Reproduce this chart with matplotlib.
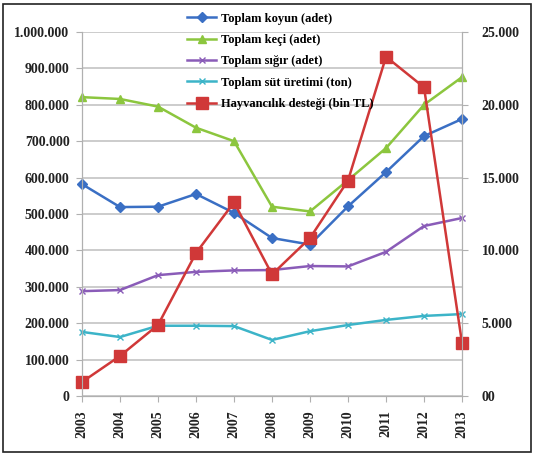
import matplotlib.pyplot as plt
from matplotlib.patches import Rectangle

years = ["2003", "2004", "2005", "2006", "2007", "2008", "2009", "2010", "2011", "2012", "2013"]

koyun = [582000, 519000, 520000, 555000, 503000, 434000, 416000, 521000, 615000, 714000, 761000]
keci = [821000, 816000, 795000, 737000, 700000, 520000, 507000, 593000, 681000, 800000, 876000]
sigir = [288000, 291000, 332000, 341000, 345000, 346000, 357000, 356000, 396000, 467000, 489000]
sut = [176000, 162000, 193000, 193000, 192000, 154000, 178000, 195000, 209000, 220000, 225000]
destek = [960, 2750, 4880, 9820, 13300, 8350, 10850, 14800, 23300, 21200, 3640]

left_ticks = list(range(0, 1000001, 100000))
left_labels = ["0"] + [f"{v:,}".replace(",", ".") for v in left_ticks[1:]]
right_ticks = list(range(0, 25001, 5000))
right_labels = ["00"] + [f"{v:,}".replace(",", ".") for v in right_ticks[1:]]

fig = plt.figure(figsize=(5.34, 4.57), dpi=100)
ax = fig.add_axes([0.1536, 0.1335, 0.7116, 0.7965])
ax2 = ax.twinx()

x = list(range(len(years)))
l1, = ax.plot(x, koyun, color="#3a6fc4", marker="D", markersize=5, lw=1.8, label="Toplam koyun (adet)", clip_on=False)
l2, = ax.plot(x, keci, color="#8cc63e", marker="^", markersize=6, lw=1.8, label="Toplam keçi (adet)", clip_on=False)
l3, = ax.plot(x, sigir, color="#8a5cb8", marker="x", markersize=5, lw=1.8, label="Toplam sığır (adet)", clip_on=False)
l4, = ax.plot(x, sut, color="#3cb4c8", marker="x", markersize=5, lw=1.8, label="Toplam süt üretimi (ton)", clip_on=False)
l5, = ax2.plot(x, destek, color="#d03838", marker="s", markersize=8, lw=1.8, label="Hayvancılık desteği (bin TL)", clip_on=False)

ax.set_xlim(0, len(years) - 1)
ax.set_ylim(0, 1000000)
ax2.set_ylim(0, 25000)
ax.set_yticks(left_ticks)
ax.set_yticklabels(left_labels)
ax2.set_yticks(right_ticks)
ax2.set_yticklabels(right_labels)
ax.set_xticks(x)
ax.set_xticklabels(years, rotation=90)

ax.grid(axis="y", color="#c8c8c8", lw=1.3)
ax.set_axisbelow(True)
for a in (ax, ax2):
    a.spines["top"].set_visible(False)
    for s in ("left", "right", "bottom"):
        a.spines[s].set_color("#b0b0b0")
    a.tick_params(colors="#222222", labelsize=10, length=4, width=0.8, pad=5)
    for lab in a.get_yticklabels() + a.get_xticklabels():
        lab.set_fontweight("bold")
        lab.set_family("Liberation Serif")
ax.tick_params(axis="x", color="#b0b0b0", pad=6)
ax.tick_params(axis="y", color="#b0b0b0")
ax2.tick_params(axis="y", color="#b0b0b0", pad=10)

leg = fig.legend(handles=[l1, l2, l3, l4, l5], loc="upper left", bbox_to_anchor=(0.33, 0.997),
                 frameon=False, handlelength=2.3, handletextpad=0.4, labelspacing=0.75,
                 prop={"family": "Liberation Serif", "size": 9, "weight": "bold"})

fig.patches.append(Rectangle((0.006, 0.01), 0.988, 0.982, transform=fig.transFigure,
                             fill=False, edgecolor="#222222", lw=1.2))

fig.savefig("out.png", dpi=100)
